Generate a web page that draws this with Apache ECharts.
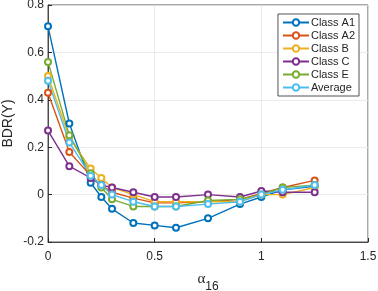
<!DOCTYPE html>
<html><head><meta charset="utf-8">
<script src="https://cdn.jsdelivr.net/npm/echarts@6/dist/echarts.min.js"></script>
<style>html,body{margin:0;padding:0;background:#fff}#c{width:378px;height:291px}</style>
</head><body><div id="c"></div>
<script>
const alphaVals = [0, 0.1, 0.2, 0.25, 0.3, 0.4, 0.5, 0.6, 0.75, 0.9, 1.0, 1.1, 1.25];
const seriesNames = ['Class A1', 'Class A2', 'Class B', 'Class C', 'Class E', 'Average'];
const classA1 = [0.71, 0.30, 0.05, -0.01, -0.06, -0.12, -0.13, -0.14, -0.10, -0.04, -0.01, 0.02, 0.035];
const classA2 = [0.43, 0.18, 0.08, 0.04, 0.01, -0.015, -0.035, -0.035, -0.03, -0.02, 0.005, 0.03, 0.06];
const classB  = [0.50, 0.24, 0.11, 0.07, 0.03, 0.0, -0.03, -0.03, -0.03, -0.03, 0.0, 0.0, 0.03];
const classC  = [0.27, 0.12, 0.07, 0.04, 0.03, 0.01, -0.01, -0.01, 0.0, -0.01, 0.015, 0.01, 0.01];
const classE  = [0.56, 0.25, 0.09, 0.03, -0.02, -0.05, -0.05, -0.05, -0.025, -0.02, 0.0, 0.03, 0.04];
const average = [0.48, 0.22, 0.08, 0.04, 0.0, -0.03, -0.05, -0.05, -0.04, -0.03, 0.0, 0.02, 0.04];
const xTicks = [0, 0.5, 1, 1.5];
const yTicks = [-0.2, 0, 0.2, 0.4, 0.6, 0.8];

const colors = ['#0072BD', '#D95319', '#EDB120', '#7E2F8E', '#77AC30', '#4DBEEE'];
const allData = [classA1, classA2, classB, classC, classE, average];

const chart = echarts.init(document.getElementById('c'), null, {renderer: 'canvas'});
const fmt = v => (Math.round(v * 10) / 10).toString();
chart.setOption({
  animation: false,
  color: colors,
  textStyle: {fontFamily: 'Liberation Sans, Arial, sans-serif'},
  grid: {left: 48, right: 10, top: 5, bottom: 49, containLabel: false, outerBoundsMode: 'none',
    show: true, borderColor: '#262626', borderWidth: 0.8, backgroundColor: 'transparent'},
  legend: {
    orient: 'vertical', right: 19, top: 14,
    backgroundColor: '#fff', borderColor: '#262626', borderWidth: 0.8,
    padding: [3, 4, 3, 4], itemGap: 2, itemWidth: 26, itemHeight: 8,
    textStyle: {fontSize: 11, color: '#262626', padding: [0, 0, 0, -3]},
    data: seriesNames
  },
  xAxis: {
    type: 'value', min: 0, max: 1.5, interval: 0.5,
    axisLine: {show: true, onZero: false, lineStyle: {color: '#262626', width: 0.8}},
    axisTick: {show: true, inside: true, length: 4, lineStyle: {color: '#262626'}},
    axisLabel: {fontSize: 12, color: '#262626', margin: 9, formatter: v => fmt(v)},
    splitLine: {show: true, lineStyle: {color: '#e6e6e6', width: 0.8}},
    name: '{a|α}{s|16}', nameLocation: 'middle', nameGap: 27, nameMoveOverlap: false,
    nameTextStyle: {rich: {
      a: {fontFamily: 'Liberation Serif, serif', fontSize: 15, color: '#262626', verticalAlign: 'bottom', lineHeight: 24, padding: [0, 0, 6, 0]},
      s: {fontSize: 12, color: '#262626', verticalAlign: 'bottom', lineHeight: 24, padding: [0, 0, 0, 0]}
    }}
  },
  yAxis: {
    type: 'value', min: -0.2, max: 0.8, interval: 0.2,
    axisLine: {show: true, onZero: false, lineStyle: {color: '#262626', width: 0.8}},
    axisTick: {show: true, inside: true, length: 4, lineStyle: {color: '#262626'}},
    axisLabel: {fontSize: 12, color: '#262626', margin: 4, formatter: v => fmt(v)},
    splitLine: {show: true, lineStyle: {color: '#e6e6e6', width: 0.8}},
    name: 'BDR(Y)', nameLocation: 'middle', nameGap: 33, nameRotate: 90, nameMoveOverlap: false,
    nameTextStyle: {fontSize: 14, color: '#262626'}
  },
  series: seriesNames.map((n, i) => ({
    name: n, type: 'line',
    data: alphaVals.map((x, j) => [x, allData[i][j]]),
    symbol: 'emptyCircle', symbolSize: 6, showAllSymbol: true,
    lineStyle: {width: 1.4, color: colors[i]},
    itemStyle: {color: colors[i], borderWidth: 1.4, borderColor: colors[i]}
  }))
});
</script></body></html>
